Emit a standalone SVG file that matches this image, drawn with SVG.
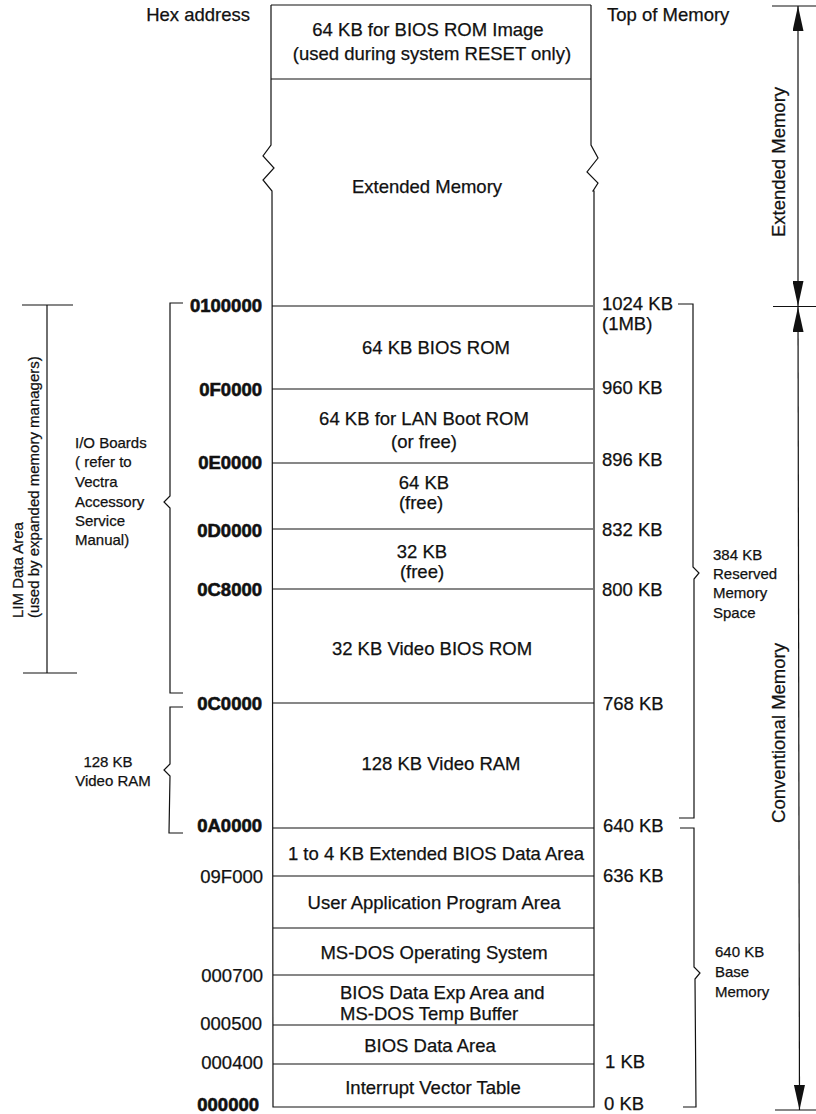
<svg xmlns="http://www.w3.org/2000/svg" width="816" height="1114" viewBox="0 0 816 1114">
<style>
  text { font-family: "Liberation Sans", Arial, sans-serif; fill: #111; stroke: #111; stroke-width: 0.25; }
  .m { font-size: 18.5px; }
  .c { text-anchor: middle; }
  .e { text-anchor: end; }
  .b { font-weight: bold; stroke-width: 0.6; }
  .s { font-size: 15px; }
  .ln { stroke: #111; stroke-width: 1.2; fill: none; }
</style>
<defs>
  <marker id="ah" viewBox="0 0 25 11" refX="25" refY="5.5" markerWidth="25" markerHeight="11" markerUnits="userSpaceOnUse" orient="auto-start-reverse">
    <path d="M0,0 L25,5.5 L0,11 z" fill="#111"/>
  </marker>
</defs>
<rect width="816" height="1114" fill="#fff"/>

<g id="memory-map">
  <path class="ln" d="M271,5 L591,5 M271,5 L271,145 L263,156 L274,168 L263,180 L272,191 L273,1107 L594,1107 L594,191 L593,191 L598,183 L587,172 L598,158 L591,145 L591,5"/>
</g>

<g id="n-bios-image">
  <line class="ln" x1="271" y1="79" x2="591" y2="79"/>
  <text class="m c" x="428" y="35.5">64 KB for BIOS ROM Image</text>
  <text class="m c" x="432" y="60">(used during system RESET only)</text>
</g>
<g id="n-extended">
  <text class="m c" x="427" y="192.5">Extended Memory</text>
</g>
<g id="n-bios-rom">
  <line class="ln" x1="272" y1="306" x2="593" y2="306"/>
  <text class="m c" x="436" y="353.5">64 KB BIOS ROM</text>
</g>
<g id="n-lan">
  <line class="ln" x1="272" y1="389" x2="593" y2="389"/>
  <text class="m c" x="424" y="424.5">64 KB for LAN Boot ROM</text>
  <text class="m c" x="424" y="448">(or free)</text>
</g>
<g id="n-free64">
  <line class="ln" x1="272" y1="463" x2="593" y2="463"/>
  <text class="m c" x="424" y="488.5">64 KB</text>
  <text class="m c" x="421" y="509">(free)</text>
</g>
<g id="n-free32">
  <line class="ln" x1="272" y1="529" x2="593" y2="529"/>
  <text class="m c" x="422" y="557.5">32 KB</text>
  <text class="m c" x="422" y="578">(free)</text>
</g>
<g id="n-video-bios">
  <line class="ln" x1="272" y1="589" x2="593" y2="589"/>
  <text class="m c" x="432" y="654.5">32 KB Video BIOS ROM</text>
</g>
<g id="n-video-ram">
  <line class="ln" x1="273" y1="703" x2="594" y2="703"/>
  <text class="m c" x="441" y="769.5">128 KB Video RAM</text>
</g>
<g id="n-ebda">
  <line class="ln" x1="273" y1="828" x2="594" y2="828"/>
  <text class="m c" x="436" y="859.5">1 to 4 KB Extended BIOS Data Area</text>
</g>
<g id="n-user">
  <line class="ln" x1="273" y1="876" x2="594" y2="876"/>
  <text class="m c" x="434" y="908.5">User Application Program Area</text>
</g>
<g id="n-msdos">
  <line class="ln" x1="273" y1="928" x2="594" y2="928"/>
  <text class="m c" x="434" y="958.5">MS-DOS Operating System</text>
</g>
<g id="n-bios-exp">
  <line class="ln" x1="273" y1="975" x2="594" y2="975"/>
  <text class="m" x="340" y="998.5">BIOS Data Exp Area and</text>
  <text class="m" x="340" y="1019.5">MS-DOS Temp Buffer</text>
</g>
<g id="n-bda">
  <line class="ln" x1="273" y1="1025" x2="594" y2="1025"/>
  <text class="m c" x="430" y="1051.5">BIOS Data Area</text>
</g>
<g id="n-ivt">
  <line class="ln" x1="273" y1="1064" x2="594" y2="1064"/>
  <text class="m c" x="433" y="1093.5">Interrupt Vector Table</text>
</g>

<g id="hex-labels">
  <text class="m e" x="250" y="20.5">Hex address</text>
  <text class="m e b" x="262" y="311.5">0100000</text>
  <text class="m e b" x="262" y="395.5">0F0000</text>
  <text class="m e b" x="262" y="468.5">0E0000</text>
  <text class="m e b" x="262" y="536.5">0D0000</text>
  <text class="m e b" x="262" y="595.5">0C8000</text>
  <text class="m e b" x="262" y="709.5">0C0000</text>
  <text class="m e b" x="262" y="831.5">0A0000</text>
  <text class="m e" x="263" y="882.5">09F000</text>
  <text class="m e" x="263" y="981.5">000700</text>
  <text class="m e" x="262" y="1029.5">000500</text>
  <text class="m e" x="263" y="1068.5">000400</text>
  <text class="m e b" x="259" y="1110.5">000000</text>
</g>

<g id="kb-labels">
  <text class="m" x="607" y="20.5">Top of Memory</text>
  <text class="m" x="602" y="309.5">1024 KB</text>
  <text class="m" x="602" y="329.5">(1MB)</text>
  <text class="m" x="602" y="393.5">960 KB</text>
  <text class="m" x="602" y="465.5">896 KB</text>
  <text class="m" x="602" y="535.5">832 KB</text>
  <text class="m" x="602" y="595.5">800 KB</text>
  <text class="m" x="603" y="709.5">768 KB</text>
  <text class="m" x="603" y="831.5">640 KB</text>
  <text class="m" x="603" y="881.5">636 KB</text>
  <text class="m" x="605" y="1067.5">1 KB</text>
  <text class="m" x="604" y="1109.5">0 KB</text>
</g>

<g id="n-lim">
  <text class="s" transform="translate(23,618) rotate(-90)">LIM Data Area</text>
  <text class="s" transform="translate(39,618) rotate(-90)">(used by expanded memory managers)</text>
</g>
<g id="n-io-boards">
  <text class="s" x="75" y="448">I/O Boards</text>
  <text class="s" x="75" y="467">( refer to</text>
  <text class="s" x="75" y="487">Vectra</text>
  <text class="s" x="75" y="507">Accessory</text>
  <text class="s" x="75" y="526">Service</text>
  <text class="s" x="75" y="545">Manual)</text>
</g>
<g id="n-video-ram-label">
  <text class="s c" x="108" y="767">128 KB</text>
  <text class="s c" x="113" y="786">Video RAM</text>
</g>
<g id="n-reserved">
  <text class="s" x="713" y="560">384 KB</text>
  <text class="s" x="713" y="579">Reserved</text>
  <text class="s" x="713" y="598">Memory</text>
  <text class="s" x="713" y="618">Space</text>
</g>
<g id="n-base">
  <text class="s" x="715" y="957">640 KB</text>
  <text class="s" x="715" y="977">Base</text>
  <text class="s" x="715" y="997">Memory</text>
</g>
<g id="n-ext-span">
  <text class="m c" transform="translate(785,162) rotate(-90)">Extended Memory</text>
</g>
<g id="n-conv-span">
  <text class="m c" transform="translate(785,733) rotate(-90)">Conventional Memory</text>
</g>

<g id="connectors">
  <path class="ln" d="M22,305 L73,305 M47,305 L47,673 M23,673 L77,673"/>
  <path class="ln" d="M183,303 L170,303 L170,496 L164,502 L170,508 L170,693 L183,693"/>
  <path class="ln" d="M183,707 L170,707 L170,764 L164,770 L170,776 L169,833 L183,833"/>
  <path class="ln" d="M678,304 L693,304 L693,567 L699,573 L694,579 L694,818 L679,818"/>
  <path class="ln" d="M680,828 L694,828 L694,967 L700,973 L695,979 L696,1107 L683,1107"/>
  <path class="ln" d="M772,6 L816,6 M773,306.5 L816,306.5 M775,1110 L816,1110"/>
  <line class="ln" x1="798" y1="6" x2="798" y2="306" marker-start="url(#ah)" marker-end="url(#ah)"/>
  <line class="ln" x1="798" y1="307" x2="799.5" y2="1110" marker-start="url(#ah)" marker-end="url(#ah)"/>
</g>
</svg>
